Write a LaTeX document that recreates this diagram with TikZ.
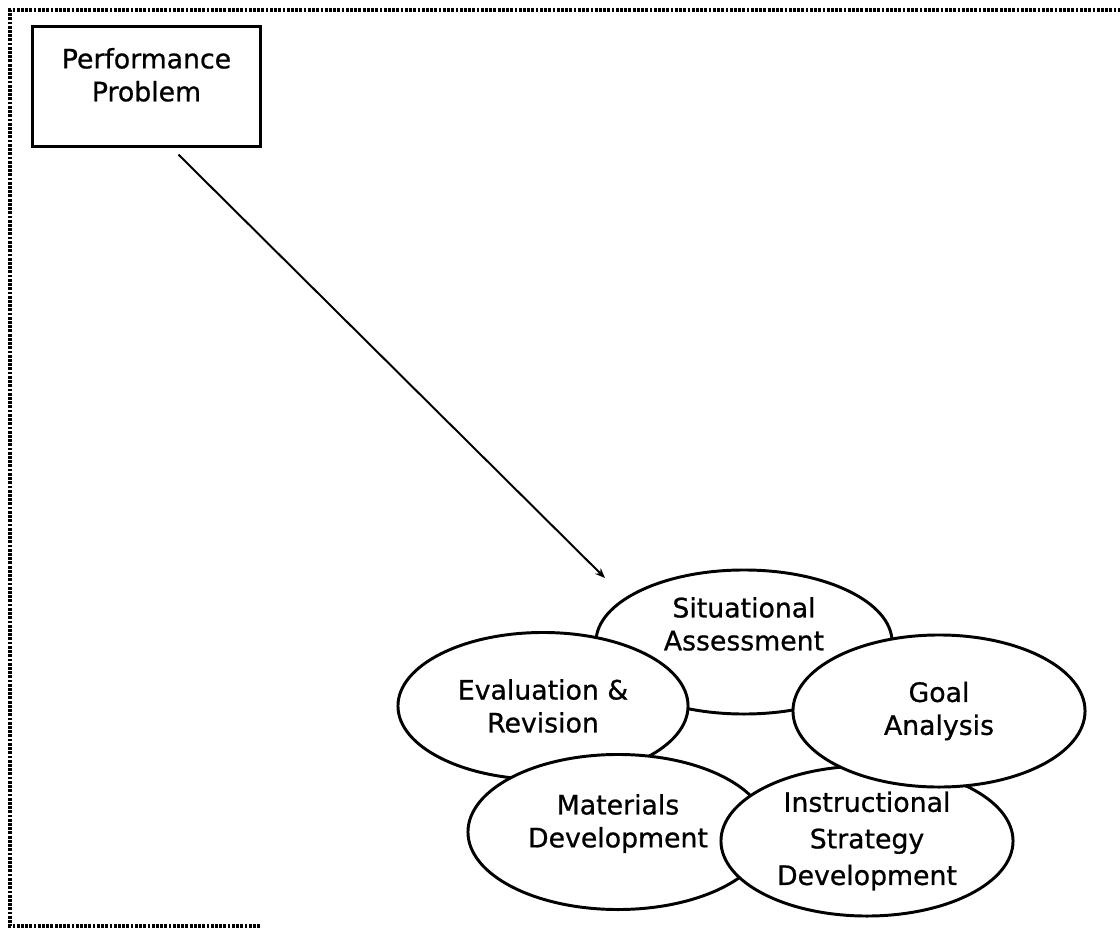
\documentclass[tikz,border=0pt]{standalone}
\usepackage{fontspec}
\setmainfont{DejaVu Sans}[FakeBold=0.8]
\usepackage{tikz}
\usetikzlibrary{shapes.geometric, arrows.meta, positioning}

\begin{document}
\begin{tikzpicture}[x=0.025cm, y=-0.025cm,
    stage/.style={draw, ellipse, line width=2.1pt, fill=white, inner sep=0pt, align=center, font=\fontsize{19}{23.4}\selectfont},
    probbox/.style={draw, line width=2.1pt, inner sep=0pt, align=center, font=\fontsize{19}{23.4}\selectfont}]
    \useasboundingbox (0,0) rectangle (1120,928);

    % Page frame (left, top and a short piece of the bottom)
    \draw[line width=2.2pt, dash pattern=on 2pt off 1pt] (260,926) -- (10,926) -- (10,10) -- (1120,10);

    % Starting box
    \node[probbox, minimum width=5.675cm, text height=53.2pt, text depth=31.9pt] (prob) at (146.5,25) [anchor=north] {Performance\\Problem};

    % The five overlapping stages (drawn back to front)
    \node[stage, minimum width=7.4cm, minimum height=3.6cm, text depth=26pt] (sit) at (744,642) {Situational\\Assessment};
    \node[stage, minimum width=7.25cm, minimum height=3.675cm] (eval) at (543,706) {Evaluation \&\\Revision};
    \node[stage, minimum width=7.5cm, minimum height=3.875cm, text depth=16pt] (mat) at (618,832) {Materials\\Development};
    \node[stage, minimum width=7.3cm, minimum height=3.75cm, font=\fontsize{19}{26}\selectfont] (instr) at (867,841) {Instructional\\Strategy\\Development};
    \node[stage, minimum width=7.3cm, minimum height=3.8cm] (goal) at (939,711) {Goal\\Analysis};

    % Entry arrow
    \coordinate (entry) at (605,578);
    \draw[line width=1.4pt, -{Stealth[length=2.5mm, width=2mm]}] ([shift={(32,7)}]prob.south) -- (entry);
\end{tikzpicture}
\end{document}
